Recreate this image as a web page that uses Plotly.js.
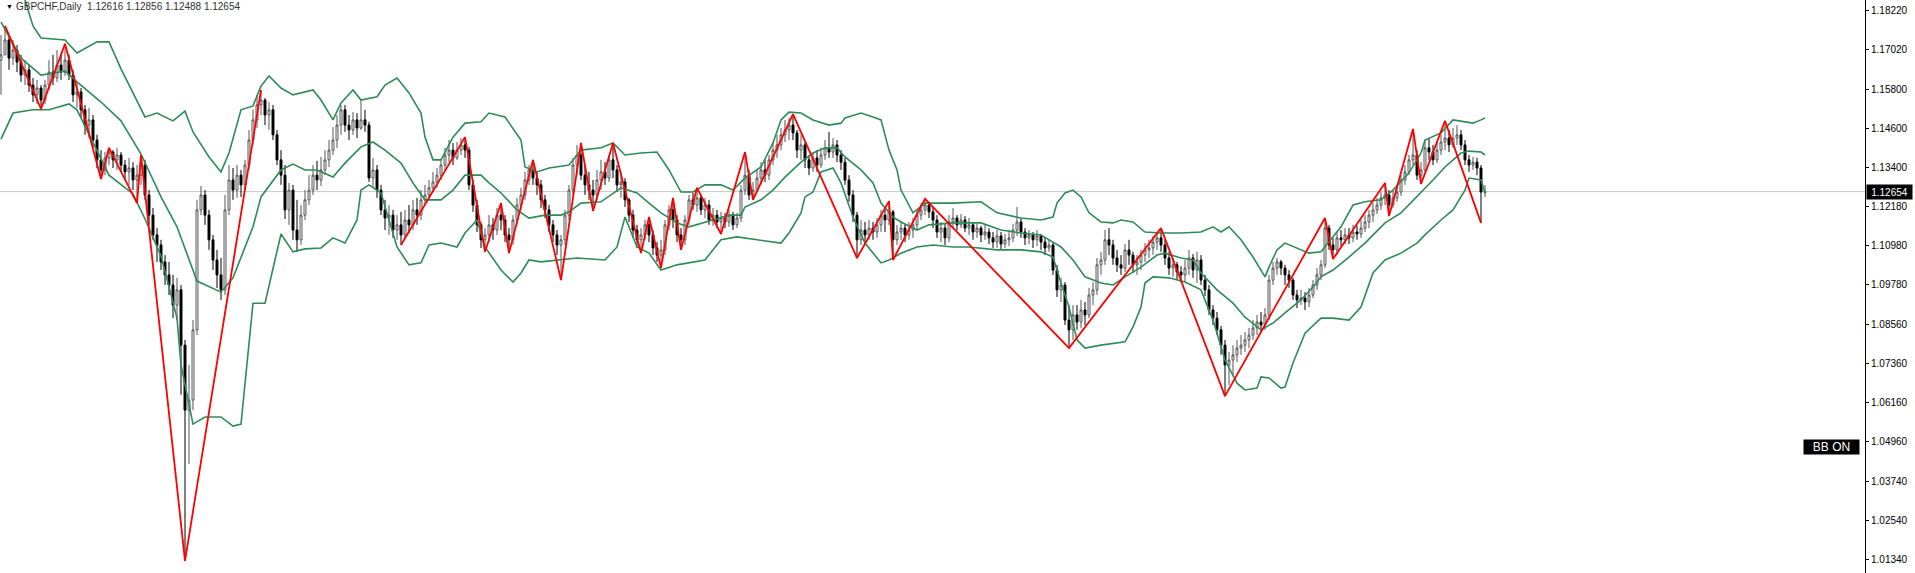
<!DOCTYPE html>
<html><head><meta charset="utf-8">
<script src="https://cdn.plot.ly/plotly-3.0.1.min.js"></script>
<style>html,body{margin:0;padding:0;background:#fff;overflow:hidden}#chart{width:1915px;height:573px}</style>
</head><body><div id="chart"></div>
<script>
const symbolName = 'GBPCHF,Daily';
const indicatorLabel = 'BB ON';

const opens = [
1.1670,1.1686,1.1732,1.1676,1.1701,1.1664,1.1624,1.1640,1.1593,1.1563,
1.1584,1.1547,1.1593,1.1633,1.1615,1.1655,1.1633,1.1670,1.1624,1.1563,
1.1572,1.1517,1.1470,1.1486,1.1424,1.1363,1.1332,1.1369,1.1387,1.1363,
1.1378,1.1347,1.1326,1.1338,1.1301,1.1316,1.1347,1.1255,1.1193,1.1132,
1.1101,1.1049,1.1009,1.0978,1.0916,1.0963,1.0793,1.0593,1.0624,1.0840,
1.1209,1.1255,1.1193,1.1117,1.1055,1.1009,1.0963,1.1209,1.1301,1.1270,
1.1316,1.1286,1.1347,1.1424,1.1486,1.1532,1.1547,1.1501,1.1517,1.1440,
1.1363,1.1316,1.1209,1.1270,1.1147,1.1117,1.1193,1.1240,1.1270,1.1316,
1.1301,1.1332,1.1363,1.1393,1.1424,1.1470,1.1517,1.1470,1.1455,1.1486,
1.1461,1.1486,1.1470,1.1307,1.1332,1.1270,1.1209,1.1184,1.1193,1.1147,
1.1163,1.1132,1.1178,1.1163,1.1209,1.1193,1.1240,1.1255,1.1277,1.1295,
1.1316,1.1347,1.1378,1.1393,1.1369,1.1393,1.1409,1.1393,1.1286,1.1224,
1.1163,1.1117,1.1132,1.1163,1.1147,1.1193,1.1178,1.1132,1.1117,1.1178,
1.1224,1.1255,1.1301,1.1332,1.1307,1.1286,1.1240,1.1209,1.1163,1.1132,
1.1101,1.1117,1.1193,1.1270,1.1347,1.1378,1.1316,1.1286,1.1270,1.1255,
1.1301,1.1326,1.1307,1.1363,1.1332,1.1286,1.1295,1.1240,1.1193,1.1147,
1.1117,1.1132,1.1163,1.1132,1.1092,1.1070,1.1086,1.1163,1.1209,1.1178,
1.1132,1.1117,1.1178,1.1240,1.1224,1.1246,1.1209,1.1224,1.1178,1.1193,
1.1172,1.1184,1.1172,1.1193,1.1163,1.1184,1.1270,1.1316,1.1255,1.1270,
1.1307,1.1332,1.1316,1.1363,1.1393,1.1409,1.1440,1.1455,1.1470,1.1446,
1.1393,1.1409,1.1363,1.1338,1.1369,1.1347,1.1378,1.1400,1.1387,1.1409,
1.1378,1.1356,1.1301,1.1255,1.1193,1.1117,1.1147,1.1132,1.1153,1.1141,
1.1163,1.1193,1.1178,1.1203,1.1117,1.1141,1.1153,1.1132,1.1147,1.1163,
1.1193,1.1209,1.1224,1.1203,1.1178,1.1141,1.1153,1.1123,1.1172,1.1184,
1.1163,1.1178,1.1153,1.1163,1.1141,1.1153,1.1132,1.1141,1.1123,1.1110,
1.1129,1.1104,1.1117,1.1123,1.1147,1.1172,1.1141,1.1123,1.1132,1.1117,
1.1129,1.1110,1.1092,1.1101,1.1024,1.0963,1.0978,1.0870,1.0840,1.0886,
1.0864,1.0901,1.0886,1.0947,1.0963,1.1040,1.1055,1.1117,1.1101,1.1061,
1.1040,1.1030,1.1086,1.1070,1.1040,1.1049,1.1070,1.1086,1.1092,1.1110,
1.1123,1.1101,1.1061,1.1030,1.1040,1.1018,1.1009,1.1030,1.1061,1.1024,
1.1055,1.0993,1.0963,1.0901,1.0876,1.0840,1.0793,1.0732,1.0747,1.0763,
1.0784,1.0793,1.0809,1.0824,1.0846,1.0864,1.0855,1.0886,1.0993,1.1030,
1.1049,1.1030,1.1009,1.0993,1.0947,1.0932,1.0938,1.0926,1.0947,1.0978,
1.1009,1.1040,1.1153,1.1101,1.1086,1.1123,1.1117,1.1132,1.1123,1.1141,
1.1135,1.1153,1.1172,1.1193,1.1209,1.1224,1.1246,1.1255,1.1224,1.1246,
1.1264,1.1301,1.1326,1.1363,1.1378,1.1316,1.1332,1.1400,1.1387,1.1363,
1.1393,1.1418,1.1430,1.1409,1.1430,1.1440,1.1409,1.1363,1.1347,1.1356,
1.1338,1.12616];

const highs = [
1.1747,1.1775,1.1747,1.1732,1.1716,1.1686,1.1670,1.1655,1.1615,1.1609,
1.1593,1.1609,1.1670,1.1686,1.1701,1.1686,1.1720,1.1686,1.1640,1.1603,
1.1584,1.1532,1.1523,1.1501,1.1440,1.1393,1.1387,1.1400,1.1393,1.1400,
1.1387,1.1363,1.1369,1.1356,1.1347,1.1378,1.1363,1.1270,1.1215,1.1153,
1.1117,1.1070,1.1049,1.1009,1.1000,1.0978,1.0809,1.0732,1.0870,1.1240,
1.1283,1.1270,1.1209,1.1132,1.1086,1.1061,1.1255,1.1347,1.1338,1.1347,
1.1332,1.1363,1.1455,1.1517,1.1563,1.1578,1.1553,1.1541,1.1532,1.1455,
1.1393,1.1347,1.1292,1.1286,1.1240,1.1224,1.1270,1.1316,1.1347,1.1360,
1.1372,1.1393,1.1424,1.1464,1.1501,1.1532,1.1532,1.1501,1.1510,1.1507,
1.1547,1.1517,1.1480,1.1369,1.1347,1.1286,1.1240,1.1224,1.1209,1.1193,
1.1203,1.1209,1.1224,1.1240,1.1246,1.1270,1.1286,1.1301,1.1326,1.1338,
1.1363,1.1400,1.1424,1.1415,1.1418,1.1430,1.1433,1.1403,1.1301,1.1240,
1.1172,1.1153,1.1193,1.1184,1.1215,1.1230,1.1193,1.1153,1.1193,1.1246,
1.1277,1.1326,1.1347,1.1363,1.1326,1.1301,1.1255,1.1224,1.1178,1.1147,
1.1132,1.1209,1.1286,1.1369,1.1409,1.1415,1.1347,1.1326,1.1301,1.1332,
1.1363,1.1356,1.1378,1.1415,1.1347,1.1326,1.1307,1.1246,1.1209,1.1163,
1.1153,1.1178,1.1187,1.1147,1.1110,1.1117,1.1178,1.1224,1.1246,1.1193,
1.1153,1.1193,1.1255,1.1261,1.1277,1.1255,1.1246,1.1240,1.1215,1.1209,
1.1203,1.1200,1.1209,1.1203,1.1200,1.1286,1.1387,1.1332,1.1295,1.1332,
1.1356,1.1363,1.1378,1.1418,1.1440,1.1461,1.1486,1.1492,1.1504,1.1455,
1.1440,1.1418,1.1378,1.1387,1.1393,1.1400,1.1424,1.1449,1.1430,1.1424,
1.1393,1.1369,1.1316,1.1270,1.1203,1.1178,1.1172,1.1178,1.1172,1.1184,
1.1209,1.1209,1.1236,1.1209,1.1163,1.1172,1.1166,1.1172,1.1184,1.1209,
1.1230,1.1243,1.1234,1.1215,1.1193,1.1172,1.1166,1.1193,1.1215,1.1193,
1.1196,1.1190,1.1184,1.1172,1.1166,1.1160,1.1163,1.1153,1.1141,1.1147,
1.1141,1.1135,1.1147,1.1166,1.1218,1.1184,1.1153,1.1147,1.1141,1.1147,
1.1135,1.1123,1.1117,1.1110,1.1040,1.1000,1.0987,1.0916,1.0916,1.0916,
1.0932,1.0926,1.0969,1.0987,1.1061,1.1080,1.1147,1.1153,1.1117,1.1086,
1.1070,1.1104,1.1117,1.1080,1.1070,1.1086,1.1107,1.1117,1.1129,1.1141,
1.1153,1.1117,1.1080,1.1061,1.1049,1.1036,1.1055,1.1086,1.1073,1.1080,
1.1070,1.1009,1.0978,1.0916,1.0895,1.0852,1.0809,1.0772,1.0793,1.0809,
1.0824,1.0833,1.0846,1.0870,1.0886,1.0895,1.0907,1.1009,1.1049,1.1061,
1.1055,1.1040,1.1024,1.1000,1.0963,1.0963,1.0956,1.0969,1.0993,1.1030,
1.1055,1.1184,1.1163,1.1123,1.1141,1.1147,1.1153,1.1153,1.1163,1.1160,
1.1178,1.1193,1.1209,1.1230,1.1246,1.1264,1.1292,1.1270,1.1270,1.1283,
1.1316,1.1347,1.1378,1.1458,1.1393,1.1356,1.1424,1.1430,1.1409,1.1418,
1.1440,1.1483,1.1455,1.1461,1.1470,1.1455,1.1424,1.1378,1.1372,1.1369,
1.1347,1.12856];

const lows = [
1.1563,1.1686,1.1640,1.1655,1.1633,1.1603,1.1593,1.1572,1.1541,1.1535,
1.1520,1.1535,1.1578,1.1593,1.1603,1.1609,1.1621,1.1609,1.1541,1.1523,
1.1492,1.1440,1.1430,1.1400,1.1338,1.1304,1.1316,1.1347,1.1338,1.1332,
1.1326,1.1301,1.1286,1.1270,1.1230,1.1286,1.1240,1.1163,1.1117,1.1049,
1.1024,1.0978,1.0947,1.0876,1.0870,1.0640,1.0129,1.0427,1.0593,1.0824,
1.1193,1.1163,1.1086,1.1024,1.0969,1.0932,1.0947,1.1193,1.1240,1.1246,
1.1249,1.1270,1.1332,1.1409,1.1461,1.1501,1.1470,1.1455,1.1424,1.1347,
1.1286,1.1181,1.1163,1.1117,1.1080,1.1101,1.1178,1.1224,1.1255,1.1270,
1.1283,1.1316,1.1341,1.1378,1.1400,1.1440,1.1449,1.1424,1.1440,1.1430,
1.1455,1.1449,1.1295,1.1277,1.1246,1.1193,1.1147,1.1132,1.1123,1.1117,
1.1101,1.1123,1.1138,1.1147,1.1163,1.1178,1.1224,1.1240,1.1264,1.1277,
1.1301,1.1332,1.1356,1.1347,1.1363,1.1378,1.1369,1.1270,1.1203,1.1141,
1.1092,1.1080,1.1110,1.1117,1.1132,1.1147,1.1110,1.1076,1.1101,1.1163,
1.1209,1.1240,1.1286,1.1286,1.1255,1.1215,1.1184,1.1141,1.1110,1.1070,
1.0993,1.1101,1.1178,1.1255,1.1316,1.1301,1.1255,1.1240,1.1206,1.1240,
1.1270,1.1286,1.1295,1.1307,1.1264,1.1246,1.1218,1.1172,1.1123,1.1092,
1.1076,1.1117,1.1110,1.1070,1.1049,1.1030,1.1070,1.1147,1.1153,1.1110,
1.1086,1.1101,1.1163,1.1209,1.1203,1.1193,1.1184,1.1163,1.1160,1.1153,
1.1135,1.1153,1.1157,1.1147,1.1153,1.1172,1.1255,1.1240,1.1240,1.1264,
1.1286,1.1295,1.1301,1.1347,1.1369,1.1393,1.1418,1.1424,1.1424,1.1369,
1.1363,1.1338,1.1316,1.1326,1.1326,1.1338,1.1363,1.1369,1.1369,1.1356,
1.1332,1.1286,1.1234,1.1172,1.1061,1.1101,1.1107,1.1117,1.1117,1.1123,
1.1141,1.1141,1.1163,1.1055,1.1101,1.1117,1.1110,1.1117,1.1123,1.1147,
1.1178,1.1193,1.1184,1.1153,1.1123,1.1110,1.1101,1.1110,1.1153,1.1147,
1.1153,1.1141,1.1132,1.1117,1.1123,1.1110,1.1117,1.1104,1.1092,1.1092,
1.1086,1.1092,1.1098,1.1110,1.1129,1.1123,1.1101,1.1104,1.1092,1.1098,
1.1086,1.1070,1.1080,1.1009,1.0941,1.0926,1.0855,1.0784,1.0809,1.0840,
1.0846,1.0855,1.0876,1.0916,1.0947,1.1009,1.1040,1.1070,1.1040,1.1018,
1.1009,1.1018,1.1040,1.1015,1.1009,1.1024,1.1049,1.1061,1.1070,1.1086,
1.1080,1.1040,1.1009,1.1003,1.0993,1.0987,1.0987,1.1009,1.1000,1.0984,
1.0978,1.0944,1.0886,1.0855,1.0824,1.0763,1.0636,1.0670,1.0701,1.0741,
1.0763,1.0772,1.0784,1.0809,1.0824,1.0833,1.0840,1.0870,1.0978,1.1009,
1.1009,1.0978,1.0969,1.0932,1.0907,1.0916,1.0901,1.0910,1.0938,1.0963,
1.0993,1.1030,1.1086,1.1058,1.1070,1.1098,1.1104,1.1104,1.1110,1.1117,
1.1123,1.1141,1.1153,1.1172,1.1196,1.1209,1.1224,1.1190,1.1215,1.1234,
1.1252,1.1286,1.1316,1.1347,1.1301,1.1289,1.1326,1.1363,1.1347,1.1353,
1.1378,1.1393,1.1387,1.1400,1.1409,1.1393,1.1347,1.1326,1.1332,1.1316,
1.1169,1.12488];

const closes = [
1.1686,1.1732,1.1676,1.1701,1.1664,1.1624,1.1640,1.1593,1.1563,1.1584,
1.1547,1.1593,1.1633,1.1615,1.1655,1.1633,1.1670,1.1624,1.1563,1.1572,
1.1517,1.1470,1.1486,1.1424,1.1363,1.1332,1.1369,1.1387,1.1363,1.1378,
1.1347,1.1326,1.1338,1.1301,1.1316,1.1347,1.1255,1.1193,1.1132,1.1101,
1.1049,1.1009,1.0978,1.0916,1.0963,1.0793,1.0593,1.0624,1.0840,1.1209,
1.1255,1.1193,1.1117,1.1055,1.1009,1.0963,1.1209,1.1301,1.1270,1.1316,
1.1286,1.1347,1.1424,1.1486,1.1532,1.1547,1.1501,1.1517,1.1440,1.1363,
1.1316,1.1209,1.1270,1.1147,1.1117,1.1193,1.1240,1.1270,1.1316,1.1301,
1.1332,1.1363,1.1393,1.1424,1.1470,1.1517,1.1470,1.1455,1.1486,1.1461,
1.1486,1.1470,1.1307,1.1332,1.1270,1.1209,1.1184,1.1193,1.1147,1.1163,
1.1132,1.1178,1.1163,1.1209,1.1193,1.1240,1.1255,1.1277,1.1295,1.1316,
1.1347,1.1378,1.1393,1.1369,1.1393,1.1409,1.1393,1.1286,1.1224,1.1163,
1.1117,1.1132,1.1163,1.1147,1.1193,1.1178,1.1132,1.1117,1.1178,1.1224,
1.1255,1.1301,1.1332,1.1307,1.1286,1.1240,1.1209,1.1163,1.1132,1.1101,
1.1117,1.1193,1.1270,1.1347,1.1378,1.1316,1.1286,1.1270,1.1255,1.1301,
1.1326,1.1307,1.1363,1.1332,1.1286,1.1295,1.1240,1.1193,1.1147,1.1117,
1.1132,1.1163,1.1132,1.1092,1.1070,1.1086,1.1163,1.1209,1.1178,1.1132,
1.1117,1.1178,1.1240,1.1224,1.1246,1.1209,1.1224,1.1178,1.1193,1.1172,
1.1184,1.1172,1.1193,1.1163,1.1184,1.1270,1.1316,1.1255,1.1270,1.1307,
1.1332,1.1316,1.1363,1.1393,1.1409,1.1440,1.1455,1.1470,1.1446,1.1393,
1.1409,1.1363,1.1338,1.1369,1.1347,1.1378,1.1400,1.1387,1.1409,1.1378,
1.1356,1.1301,1.1255,1.1193,1.1117,1.1147,1.1132,1.1153,1.1141,1.1163,
1.1193,1.1178,1.1203,1.1117,1.1141,1.1153,1.1132,1.1147,1.1163,1.1193,
1.1209,1.1224,1.1203,1.1178,1.1141,1.1153,1.1123,1.1172,1.1184,1.1163,
1.1178,1.1153,1.1163,1.1141,1.1153,1.1132,1.1141,1.1123,1.1110,1.1129,
1.1104,1.1117,1.1123,1.1147,1.1172,1.1141,1.1123,1.1132,1.1117,1.1129,
1.1110,1.1092,1.1101,1.1024,1.0963,1.0978,1.0870,1.0840,1.0886,1.0864,
1.0901,1.0886,1.0947,1.0963,1.1040,1.1055,1.1117,1.1101,1.1061,1.1040,
1.1030,1.1086,1.1070,1.1040,1.1049,1.1070,1.1086,1.1092,1.1110,1.1123,
1.1101,1.1061,1.1030,1.1040,1.1018,1.1009,1.1030,1.1061,1.1024,1.1055,
1.0993,1.0963,1.0901,1.0876,1.0840,1.0793,1.0732,1.0747,1.0763,1.0784,
1.0793,1.0809,1.0824,1.0846,1.0864,1.0855,1.0886,1.0993,1.1030,1.1049,
1.1030,1.1009,1.0993,1.0947,1.0932,1.0938,1.0926,1.0947,1.0978,1.1009,
1.1040,1.1153,1.1101,1.1086,1.1123,1.1117,1.1132,1.1123,1.1141,1.1135,
1.1153,1.1172,1.1193,1.1209,1.1224,1.1246,1.1255,1.1224,1.1246,1.1264,
1.1301,1.1326,1.1363,1.1378,1.1316,1.1332,1.1400,1.1387,1.1363,1.1393,
1.1418,1.1430,1.1409,1.1430,1.1440,1.1409,1.1363,1.1347,1.1356,1.1338,
1.1264,1.12654];

// Bollinger band lines (bar index, price)
const upperX = [0,6,8,10,16,19,24,27,30,36,39,43,46,48,52,55,57,60,63,65,67,70,73,78,80,83,85,88,90,94,96,99,102,105,106,108,110,113,116,120,122,126,130,131,134,137,142,145,150,153,156,160,164,167,170,173,176,180,183,186,190,193,195,197,200,203,207,210,211,215,218,220,222,224,225,228,231,238,245,249,255,260,263,264,266,268,270,272,275,278,280,283,286,290,295,300,303,305,307,310,313,315,316,317,319,321,325,327,330,331,335,338,341,345,348,352,355,356,360,363,366,368,370,371];
const upperY = [1.1978,1.1855,1.1775,1.1738,1.1732,1.1692,1.1726,1.1726,1.1643,1.1495,1.1507,1.1483,1.1513,1.1449,1.1372,1.1326,1.1384,1.1517,1.1529,1.1590,1.1621,1.1584,1.1563,1.1578,1.1547,1.1486,1.1538,1.1578,1.1547,1.1557,1.1593,1.1615,1.1569,1.1507,1.1433,1.1363,1.1363,1.1433,1.1476,1.1480,1.1507,1.1495,1.1424,1.1341,1.1326,1.1338,1.1347,1.1393,1.1400,1.1415,1.1378,1.1384,1.1387,1.1332,1.1264,1.1264,1.1286,1.1286,1.1270,1.1307,1.1341,1.1415,1.1486,1.1510,1.1507,1.1486,1.1470,1.1476,1.1492,1.1507,1.1495,1.1486,1.1393,1.1332,1.1270,1.1200,1.1230,1.1230,1.1234,1.1200,1.1184,1.1178,1.1187,1.1230,1.1261,1.1270,1.1249,1.1200,1.1172,1.1169,1.1178,1.1172,1.1141,1.1138,1.1138,1.1141,1.1157,1.1141,1.1157,1.1117,1.1064,1.1024,1.1003,1.1033,1.1086,1.1107,1.1086,1.1076,1.1080,1.1095,1.1157,1.1224,1.1234,1.1240,1.1270,1.1323,1.1384,1.1424,1.1446,1.1486,1.1480,1.1476,1.1486,1.1492];

const middleX = [0,5,10,16,19,25,30,35,40,44,49,55,58,63,65,70,73,76,79,83,86,90,93,96,100,103,106,110,113,116,120,122,125,129,132,136,140,142,145,150,155,159,162,165,169,172,178,182,185,186,190,193,196,200,203,206,209,211,215,218,220,223,225,229,232,238,245,250,255,260,263,265,268,271,275,278,281,285,289,291,295,298,300,304,308,311,315,318,321,325,328,330,333,337,341,346,350,354,358,361,365,367,370,371];
const middleY = [1.1787,1.1676,1.1624,1.1636,1.1603,1.1541,1.1483,1.1381,1.1249,1.1157,1.0990,1.0956,1.1000,1.1157,1.1249,1.1332,1.1350,1.1332,1.1332,1.1310,1.1353,1.1403,1.1418,1.1393,1.1353,1.1292,1.1240,1.1240,1.1270,1.1316,1.1316,1.1292,1.1261,1.1209,1.1184,1.1193,1.1193,1.1203,1.1230,1.1234,1.1277,1.1261,1.1230,1.1200,1.1169,1.1157,1.1178,1.1193,1.1193,1.1218,1.1240,1.1270,1.1310,1.1356,1.1384,1.1400,1.1400,1.1372,1.1332,1.1292,1.1230,1.1187,1.1172,1.1147,1.1163,1.1169,1.1169,1.1147,1.1138,1.1132,1.1110,1.1095,1.1055,1.1003,1.0984,1.0978,1.1003,1.1033,1.1070,1.1076,1.1061,1.1055,1.1015,1.0963,1.0922,1.0879,1.0840,1.0861,1.0892,1.0932,1.0972,1.1003,1.1024,1.1064,1.1107,1.1169,1.1200,1.1249,1.1301,1.1341,1.1384,1.1390,1.1387,1.1378];

const lowerX = [0,3,8,12,17,19,27,33,36,40,44,45,48,51,55,58,60,63,66,70,73,76,80,83,86,89,90,92,95,97,99,102,105,107,110,114,116,119,121,125,128,130,132,135,139,144,151,154,156,159,162,165,169,172,176,180,184,189,195,197,200,201,203,205,208,210,213,216,220,222,225,229,233,238,242,249,255,260,263,265,267,269,271,275,281,283,285,286,288,292,296,300,303,306,309,311,314,315,317,320,321,323,326,330,333,337,340,343,346,350,354,356,360,363,366,367,370,371];
const lowerY = [1.1427,1.1507,1.1517,1.1517,1.1535,1.1517,1.1316,1.1258,1.1181,1.1067,1.0876,1.0732,1.0550,1.0572,1.0572,1.0544,1.0550,1.0922,1.0922,1.1135,1.1080,1.1089,1.1092,1.1123,1.1107,1.1178,1.1270,1.1286,1.1261,1.1178,1.1095,1.1040,1.1046,1.1101,1.1107,1.1095,1.1138,1.1178,1.1095,1.1024,1.0987,1.1015,1.1055,1.1049,1.1055,1.1061,1.1055,1.1095,1.1187,1.1095,1.1076,1.1024,1.1040,1.1046,1.1055,1.1117,1.1126,1.1117,1.1107,1.1138,1.1200,1.1249,1.1264,1.1326,1.1338,1.1292,1.1187,1.1107,1.1046,1.1055,1.1076,1.1095,1.1101,1.1095,1.1095,1.1086,1.1086,1.1080,1.1064,1.0984,1.0910,1.0809,1.0784,1.0793,1.0803,1.0849,1.0910,1.0984,1.1003,1.1000,1.0987,1.0963,1.0870,1.0747,1.0676,1.0655,1.0661,1.0695,1.0692,1.0661,1.0664,1.0738,1.0830,1.0876,1.0876,1.0870,1.0910,1.1015,1.1055,1.1076,1.1107,1.1132,1.1178,1.1209,1.1270,1.1307,1.1301,1.1261];

// ZigZag turning points (bar index, price); null = gap in the line
const zigzagX = [1,10,16,25,27,34,35,46,65,null,100,116,121,125,127,133,140,145,148,153,160,162,165,168,170,174,180,186,188,198,214,222,223,231,267,290,306,331,333,346,347,353,355,361,370];
const zigzagY = [1.1775,1.1520,1.1720,1.1304,1.1400,1.1230,1.1378,1.0129,1.1578,null,1.1101,1.1433,1.1080,1.1230,1.1076,1.1363,1.0993,1.1415,1.1206,1.1415,1.1076,1.1187,1.1030,1.1246,1.1086,1.1277,1.1135,1.1387,1.1240,1.1504,1.1061,1.1236,1.1055,1.1243,1.0784,1.1153,1.0636,1.1184,1.1058,1.1292,1.1190,1.1458,1.1289,1.1483,1.1169];

const priceTicks = [1.18220,1.17020,1.15800,1.14600,1.13400,1.12180,1.10980,1.09780,1.08560,1.07360,1.06160,1.04960,1.03740,1.02540,1.01340];

const barIndex = closes.map((_, i) => i);
const last = closes.length - 1;
const bandColor = '#2e8b57';
const font = 'Liberation Sans, Arial, sans-serif';

const traces = [
  {type:'candlestick', x:barIndex, open:opens, high:highs, low:lows, close:closes,
   increasing:{line:{color:'#555555', width:1}, fillcolor:'#ffffff'},
   decreasing:{line:{color:'#000000', width:1}, fillcolor:'#000000'},
   whiskerwidth:0, hoverinfo:'skip', showlegend:false},
  {type:'scatter', mode:'lines', x:upperX, y:upperY, line:{color:bandColor, width:1.6}, hoverinfo:'skip'},
  {type:'scatter', mode:'lines', x:middleX, y:middleY, line:{color:bandColor, width:1.6}, hoverinfo:'skip'},
  {type:'scatter', mode:'lines', x:lowerX, y:lowerY, line:{color:bandColor, width:1.6}, hoverinfo:'skip'},
  {type:'scatter', mode:'lines', x:zigzagX, y:zigzagY, connectgaps:false, line:{color:'#ff0000', width:1.8}, hoverinfo:'skip'}
];

const fmt = v => v.toFixed(5);
const layout = {
  width:1915, height:573,
  margin:{l:0, r:50, t:0, b:0},
  paper_bgcolor:'#ffffff', plot_bgcolor:'#ffffff',
  showlegend:false,
  boxgap:0.3,
  xaxis:{range:[-0.25, 466], visible:false, rangeslider:{visible:false}, showgrid:false, zeroline:false, fixedrange:true},
  yaxis:{side:'right', range:[1.00918, 1.18549], tickvals:priceTicks, tickformat:'.5f',
         showgrid:false, zeroline:false, showline:true, linecolor:'#000', linewidth:1,
         ticks:'outside', ticklen:3, tickcolor:'#000',
         tickfont:{family:font, size:10, color:'#000'}, fixedrange:true},
  shapes:[
    {type:'line', xref:'paper', x0:0, x1:1, yref:'y', y0:closes[last], y1:closes[last], layer:'below', line:{color:'#c8c8c8', width:1}}
  ],
  annotations:[
    {xref:'paper', yref:'paper', x:0, y:1, xanchor:'left', yanchor:'top', xshift:4, yshift:-1,
     text:'\u25BC', font:{family:font, size:7, color:'#000'}, showarrow:false},
    {xref:'paper', yref:'paper', x:0, y:1, xanchor:'left', yanchor:'top', xshift:14, yshift:1,
     text: symbolName + '\u00a0\u00a0' + [opens[last], highs[last], lows[last], closes[last]].map(fmt).join(' '),
     font:{family:font, size:10, color:'#303030'}, showarrow:false},
    {xref:'paper', yref:'y', x:1, y:closes[last], xanchor:'left', yanchor:'middle', xshift:1,
     text: fmt(closes[last]), bgcolor:'#000', font:{family:font, size:10, color:'#fff'},
     borderpad:1, width:43, height:12, showarrow:false},
    {xref:'paper', yref:'paper', x:0.9973, y:0.2199, xanchor:'right', yanchor:'middle',
     text: indicatorLabel, bgcolor:'#000', font:{family:font, size:12, color:'#fff'},
     borderpad:0, width:55, height:14, showarrow:false}
  ]
};

Plotly.newPlot('chart', traces, layout, {staticPlot:true, displayModeBar:false});
</script></body></html>
